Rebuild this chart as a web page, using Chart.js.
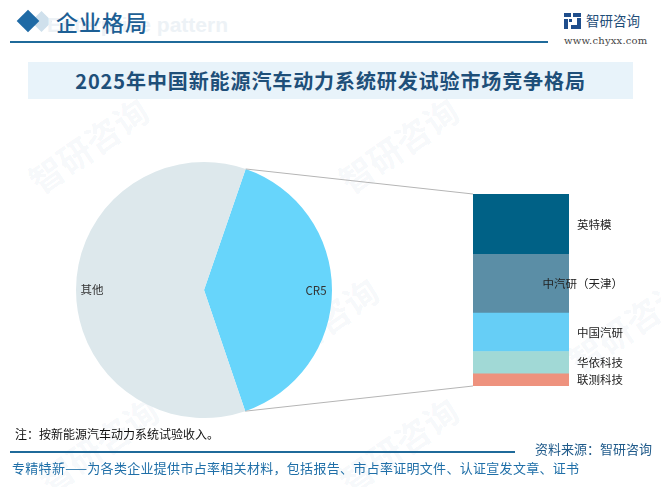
<!DOCTYPE html>
<html><head><meta charset="utf-8">
<script src="https://cdn.jsdelivr.net/npm/chart.js@4/dist/chart.umd.min.js"></script>
<style>
html,body{margin:0;padding:0;background:#fff;}
body{width:661px;height:487px;position:relative;overflow:hidden;font-family:"Noto Sans CJK SC","Noto Sans",sans-serif;}
.abs{position:absolute;}
.wm{position:absolute;color:rgba(30,90,140,0.05);font-weight:700;font-size:34px;transform:rotate(-35deg);white-space:nowrap;}
</style></head>
<body>
<!-- watermarks -->
<div class="wm" style="left:20px;top:120px;">智研咨询</div>
<div class="wm" style="left:330px;top:120px;">智研咨询</div>
<div class="wm" style="left:250px;top:300px;">智研咨询</div>
<div class="wm" style="left:560px;top:300px;">智研咨询</div>
<div class="wm" style="left:30px;top:420px;">智研咨询</div>
<div class="wm" style="left:330px;top:420px;">智研咨询</div>

<!-- header -->
<div class="abs" style="left:34px;top:14px;width:15px;height:15px;background:#cfe0ec;transform:rotate(45deg);"></div>
<div class="abs" style="left:20px;top:13px;width:16px;height:16px;background:#1f6aa5;transform:rotate(45deg);"></div>
<div class="abs" style="left:30px;top:13px;font:bold 21px Arial,'Liberation Sans',sans-serif;color:#edf2f6;white-space:nowrap;width:198px;text-align:right;">Enterprise pattern</div>
<div class="abs" style="left:56px;top:5px;font-size:22px;font-weight:500;color:#1d5f95;letter-spacing:1px;white-space:nowrap;">企业格局</div>
<div class="abs" style="left:10px;top:41px;width:538px;height:2px;background:#1f6a9a;"></div>
<svg class="abs" style="left:564px;top:13px;" width="17" height="16" viewBox="0 0 17 16">
<rect x="0" y="0" width="7" height="4" fill="#1f4e8c"/><rect x="0" y="6" width="4" height="10" fill="#1f4e8c"/><rect x="5" y="6" width="3" height="3" fill="#1f4e8c"/>
<rect x="9" y="0" width="8" height="4" fill="#1f4e8c"/><rect x="13" y="5" width="4" height="7" fill="#1f4e8c"/><rect x="7" y="12" width="10" height="4" fill="#1f4e8c"/>
</svg>
<div class="abs" style="left:586px;top:10px;font-size:13.5px;color:#1f4e79;white-space:nowrap;">智研咨询</div>
<div class="abs" style="left:564px;top:35px;font:10px 'DejaVu Serif','Liberation Serif',serif;color:#444;white-space:nowrap;letter-spacing:0.2px;">www.chyxx.com</div>

<!-- title band -->
<div class="abs" style="left:28px;top:62px;width:605px;height:37px;background:#e8f3fa;"></div>
<div class="abs" style="left:28px;top:62px;width:605px;height:37px;line-height:37px;text-align:center;font-size:20px;font-weight:700;color:#1e4f79;letter-spacing:0.9px;white-space:nowrap;">2025年中国新能源汽车动力系统研发试验市场竞争格局</div>

<!-- charts -->
<canvas id="pie" class="abs" style="left:76px;top:162px;"></canvas>
<canvas id="bar" class="abs" style="left:473px;top:194px;"></canvas>
<canvas id="links" class="abs" style="left:0;top:0;" width="661" height="487"></canvas>

<!-- footer -->
<div class="abs" style="left:15px;top:425px;font-size:12px;color:#111;white-space:nowrap;">注：按新能源汽车动力系统试验收入。</div>
<div class="abs" style="left:10px;top:451px;width:505px;height:2px;background:#1f6a9a;"></div>
<div class="abs" style="left:535px;top:439px;font-size:13px;color:#1f5a8a;white-space:nowrap;">资料来源：智研咨询</div>
<div class="abs" style="left:12px;top:458px;font-size:13px;color:#1f6fa8;white-space:nowrap;letter-spacing:0.3px;">专精特新——为各类企业提供市占率相关材料，包括报告、市占率证明文件、认证宣发文章、证书</div>

<script>
// ---- data ----
const pieLabels = ['CR5', '其他'];
const pieValues = [39.5, 60.5];
const pieColors = ['#67d5fb', '#dde8ec'];

const companies = ['英特模', '中汽研（天津）', '中国汽研', '华依科技', '联测科技'];
const companyShares = [12.4, 12.1, 7.9, 4.6, 2.5];
const companyColors = ['#006186', '#5b8ea6', '#66cef6', '#a1d9d6', '#ee927e'];

const FONT = '"Noto Sans CJK SC","Noto Sans",sans-serif';

// ---- pie ----
const pieCanvas = document.getElementById('pie');
pieCanvas.style.width = '256px'; pieCanvas.style.height = '256px';
const pieLabelPlugin = {
  id: 'pieLabels',
  afterDatasetsDraw(chart) {
    const ctx = chart.ctx;
    const meta = chart.getDatasetMeta(0);
    ctx.save();
    ctx.font = '11.5px ' + FONT;
    ctx.fillStyle = '#333';
    ctx.textAlign = 'center';
    ctx.textBaseline = 'middle';
    meta.data.forEach((arc, i) => {
      const a = (arc.startAngle + arc.endAngle) / 2;
      const r = arc.outerRadius * 0.875;
      ctx.fillText(chart.data.labels[i], arc.x + Math.cos(a) * r, arc.y + Math.sin(a) * r);
    });
    ctx.restore();
  }
};
const pieChart = new Chart(pieCanvas, {
  type: 'pie',
  data: { labels: pieLabels, datasets: [{ data: pieValues, backgroundColor: pieColors, borderWidth: 0 }] },
  options: {
    responsive: false, animation: false, rotation: 19,
    layout: { padding: 0 },
    plugins: { legend: { display: false }, tooltip: { enabled: false } }
  },
  plugins: [pieLabelPlugin]
});

// ---- stacked bar ----
const barCanvas = document.getElementById('bar');
barCanvas.width = 188; barCanvas.height = 192;
barCanvas.style.width = '188px'; barCanvas.style.height = '192px';
const order = companies.map((_, i) => i).reverse(); // bottom-most first
const barLabelPlugin = {
  id: 'barLabels',
  afterDatasetsDraw(chart) {
    const ctx = chart.ctx;
    ctx.save();
    ctx.font = '11.5px ' + FONT;
    ctx.fillStyle = '#222';
    ctx.textAlign = 'left';
    ctx.textBaseline = 'middle';
    const right = chart.chartArea.right;
    chart.data.datasets.forEach((ds, di) => {
      const el = chart.getDatasetMeta(di).data[0];
      const w = ctx.measureText(ds.label).width;
      const x = Math.min(right + 8, right + 54 - w);
      ctx.fillText(ds.label, x, (el.y + el.base) / 2);
    });
    ctx.restore();
  }
};
const barChart = new Chart(barCanvas, {
  type: 'bar',
  data: {
    labels: [''],
    datasets: order.map(i => ({
      label: companies[i], data: [companyShares[i]],
      backgroundColor: companyColors[i], borderWidth: 0,
      categoryPercentage: 1, barPercentage: 1
    }))
  },
  options: {
    responsive: false, animation: false,
    layout: { padding: { left: 0, right: 92, top: 0, bottom: 0 } },
    scales: {
      x: { stacked: true, display: false },
      y: { stacked: true, display: false, min: 0, max: companyShares.reduce((a, b) => a + b, 0) }
    },
    plugins: { legend: { display: false }, tooltip: { enabled: false } }
  },
  plugins: [barLabelPlugin]
});

// ---- connector lines ----
(function () {
  const arc = pieChart.getDatasetMeta(0).data[0];
  const px = 76, py = 162, bx = 473, by = 194;
  const p1 = { x: px + arc.x + Math.cos(arc.startAngle) * arc.outerRadius, y: py + arc.y + Math.sin(arc.startAngle) * arc.outerRadius };
  const p2 = { x: px + arc.x + Math.cos(arc.endAngle) * arc.outerRadius, y: py + arc.y + Math.sin(arc.endAngle) * arc.outerRadius };
  const n = barChart.data.datasets.length;
  const topEl = barChart.getDatasetMeta(n - 1).data[0];
  const botEl = barChart.getDatasetMeta(0).data[0];
  const left = bx + topEl.x - topEl.width / 2;
  const ctx = document.getElementById('links').getContext('2d');
  ctx.strokeStyle = '#b5b5b5';
  ctx.lineWidth = 1;
  ctx.beginPath();
  ctx.moveTo(p1.x, p1.y); ctx.lineTo(left, by + topEl.y);
  ctx.moveTo(p2.x, p2.y); ctx.lineTo(left, by + botEl.base);
  ctx.stroke();
})();
</script>
</body></html>
